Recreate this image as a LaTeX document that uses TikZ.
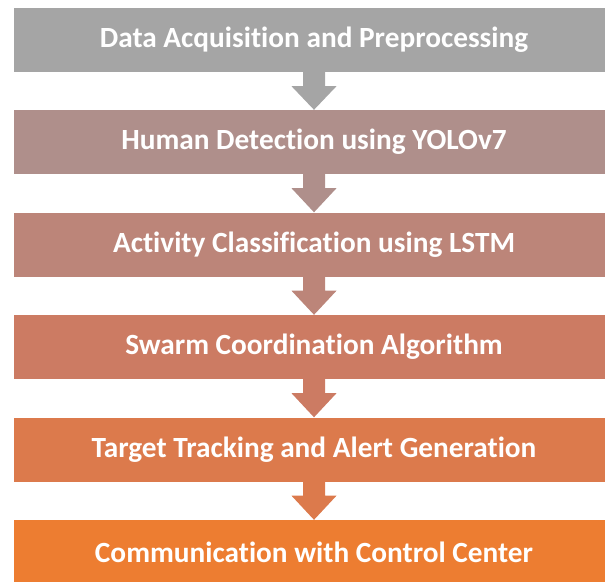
\documentclass[tikz,border=0pt]{standalone}
\usepackage{fontspec}
\setmainfont{Carlito}[Ligatures={NoCommon}]
\usetikzlibrary{calc}
\definecolor{cA}{HTML}{A5A5A5}
\definecolor{cB}{HTML}{AF8F8B}
\definecolor{cC}{HTML}{BC8579}
\definecolor{cD}{HTML}{CC7B63}
\definecolor{cE}{HTML}{DC7A4C}
\definecolor{cF}{HTML}{ED7D31}
\tikzset{
  stagebox/.style={fill=#1, draw=none, minimum width=600pt, minimum height=64pt, inner sep=0pt,
    text=white, font=\fontsize{29.3}{34}\selectfont\bfseries},
}
\newcommand{\downarrowshape}[3]{%
  \fill[#3] let \p1=(#1.south), \p2=(#2.north) in
    (\x1,\y1) -- ++(11pt,0) -- ++(0,-14pt) -- ++(11.5pt,0) -- (\x1,\y2)
    -- (\x1-22.5pt,\y1-14pt) -- ++(11.5pt,0) -- ++(0,14pt) -- cycle;}
\begin{document}
\begin{tikzpicture}[x=1pt,y=-1pt]
\useasboundingbox (0,0) rectangle (605,581);
\clip (0,0) rectangle (605,581);
\node[stagebox=cA] (s1) at (314,40) {Data Acquisition and Preprocessing};
\node[stagebox=cB] (s2) at (314,142) {Human Detection using YOLOv7};
\node[stagebox=cC] (s3) at (314,244.5) {Activity Classification using LSTM};
\node[stagebox=cD] (s4) at (314,347) {Swarm Coordination Algorithm};
\node[stagebox=cE] (s5) at (314,449.5) {Target Tracking and Alert Generation};
\node[stagebox=cF] (s6) at (314,552) {Communication with Control Center};
\downarrowshape{s1}{s2}{cA}
\downarrowshape{s2}{s3}{cB}
\downarrowshape{s3}{s4}{cC}
\downarrowshape{s4}{s5}{cD}
\downarrowshape{s5}{s6}{cE}
\end{tikzpicture}
\end{document}
